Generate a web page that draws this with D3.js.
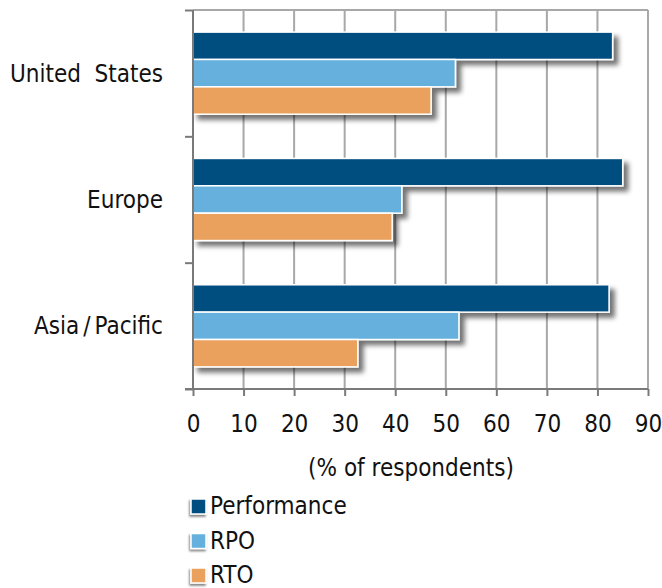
<!DOCTYPE html>
<html>
<head>
<meta charset="utf-8">
<script src="https://cdn.jsdelivr.net/npm/d3@7"></script>
<style>
  body { margin: 0; background: #fff; }
  text { font-family: "DejaVu Sans Condensed", "DejaVu Sans", sans-serif; fill: #111; }
</style>
</head>
<body>
<div id="chart"></div>
<script>
// Data
const regions = ['United States', 'Europe', 'Asia/Pacific'];
const seriesNames = ['Performance', 'RPO', 'RTO'];
const performance = [83, 85, 82.3];
const rpo = [51.9, 41.3, 52.6];
const rto = [47.1, 39.4, 32.6];
const xTicks = [0, 10, 20, 30, 40, 50, 60, 70, 80, 90];
const xLabel = '(% of respondents)';

const seriesValues = [performance, rpo, rto];
const colors = ['#004d80', '#66b0dd', '#e9a15d'];
const FONT = 24;

// Constants
const W = 662, H = 588;
const MARGIN = { top: 10, right: 14, bottom: 199, left: 193 };
const WIDTH = 648 - MARGIN.left;
const HEIGHT = 389 - MARGIN.top;

const svg = d3.select('#chart')
  .append('svg')
  .attr('width', W)
  .attr('height', H);

// Shadow filter
const defs = svg.append('defs');
const filter = defs.append('filter')
  .attr('id', 'shadow')
  .attr('x', '-10%').attr('y', '-30%')
  .attr('width', '130%').attr('height', '180%');
filter.append('feGaussianBlur').attr('in', 'SourceAlpha').attr('stdDeviation', 2.5).attr('result', 'blur');
filter.append('feOffset').attr('dx', 5).attr('dy', 5).attr('result', 'off');
filter.append('feComponentTransfer').append('feFuncA').attr('type', 'linear').attr('slope', 0.55);
const merge = filter.append('feMerge');
merge.append('feMergeNode');
merge.append('feMergeNode').attr('in', 'SourceGraphic');

// Small shadow for legend keys (falls down-left)
const keyShadow = defs.append('filter')
  .attr('id', 'keyshadow')
  .attr('x', '-50%').attr('y', '-50%')
  .attr('width', '200%').attr('height', '200%');
keyShadow.append('feGaussianBlur').attr('in', 'SourceAlpha').attr('stdDeviation', 0.8);
keyShadow.append('feOffset').attr('dx', -1.5).attr('dy', 1.5);
keyShadow.append('feComponentTransfer').append('feFuncA').attr('type', 'linear').attr('slope', 0.5);
const merge2 = keyShadow.append('feMerge');
merge2.append('feMergeNode');
merge2.append('feMergeNode').attr('in', 'SourceGraphic');

const g = svg.append('g')
  .attr('transform', `translate(${MARGIN.left}, ${MARGIN.top})`);

// Scales
const x = d3.scaleLinear().domain([0, 90]).range([0, WIDTH]);
const y0 = d3.scaleBand().domain(regions).range([0, HEIGHT]).paddingInner(0.35).paddingOuter(0.175);
const y1 = d3.scaleBand().domain(seriesNames).range([0, y0.bandwidth()]);

// Gridlines
g.append('line')
  .attr('x1', 0).attr('x2', WIDTH)
  .attr('y1', 0).attr('y2', 0)
  .attr('stroke', '#a8a8a8').attr('stroke-width', 2);
g.selectAll('.grid')
  .data(xTicks.slice(1))
  .join('line')
  .attr('class', 'grid')
  .attr('x1', d => x(d)).attr('x2', d => x(d))
  .attr('y1', 0).attr('y2', HEIGHT)
  .attr('stroke', '#a8a8a8').attr('stroke-width', 2);

// Bars
const groups = g.selectAll('.region')
  .data(regions)
  .join('g')
  .attr('class', 'region')
  .attr('transform', d => `translate(0, ${y0(d)})`)
  .attr('filter', 'url(#shadow)');

groups.selectAll('rect')
  .data((d, i) => seriesNames.map((s, j) => ({ s, v: seriesValues[j][i], c: colors[j] })))
  .join('rect')
  .attr('x', 0)
  .attr('y', d => y1(d.s))
  .attr('width', d => x(d.v))
  .attr('height', y1.bandwidth())
  .attr('fill', d => d.c)
  .attr('stroke', '#fff')
  .attr('stroke-width', 1.5);

// Axes
const yAxis = d3.axisLeft(d3.scaleLinear().domain([0, 3]).range([0, HEIGHT]))
  .tickValues([0, 1, 2, 3])
  .tickSize(8)
  .tickFormat('');
const yg = g.append('g').call(yAxis);
yg.selectAll('path, line').attr('stroke', '#7a7a7a').attr('stroke-width', 2);
yg.select('.domain').attr('d', `M0,0V${HEIGHT}`);

const xAxis = d3.axisBottom(x).tickValues(xTicks).tickSize(7).tickPadding(19);
const xg = g.append('g')
  .attr('transform', `translate(0, ${HEIGHT})`)
  .call(xAxis);
xg.select('.domain').attr('d', `M-8,0H${WIDTH}`);
xg.selectAll('path, line').attr('stroke', '#7a7a7a').attr('stroke-width', 2);
xg.selectAll('text')
  .attr('font-size', FONT)
  .style('font-family', '"DejaVu Sans Condensed", "DejaVu Sans", sans-serif')
  .attr('fill', '#111');

// Category labels
const cat = g.selectAll('.cat')
  .data(regions)
  .join('text')
  .attr('class', 'cat')
  .attr('x', -30)
  .attr('y', d => y0(d) + y0.bandwidth() / 2)
  .attr('dy', '0.35em')
  .attr('text-anchor', 'end')
  .attr('font-size', FONT)
  .attr('xml:space', 'preserve');
cat.each(function (d) {
  const t = d3.select(this);
  if (d === 'United States') {
    t.text('United  States');
  } else if (d.includes('/')) {
    const [a, b] = d.split('/');
    t.append('tspan').text(a);
    t.append('tspan').attr('dx', 4).text('/');
    t.append('tspan').attr('dx', 4).text(b);
  } else {
    t.text(d);
  }
});

// Axis title
svg.append('text')
  .attr('x', 411)
  .attr('y', 468)
  .attr('dy', '0.35em')
  .attr('text-anchor', 'middle')
  .attr('font-size', FONT)
  .text(xLabel);

// Legend
const legend = svg.append('g').attr('transform', 'translate(191, 506)');
const item = legend.selectAll('.item')
  .data(seriesNames)
  .join('g')
  .attr('class', 'item')
  .attr('transform', (d, i) => `translate(0, ${i * 34.5})`);
item.append('rect')
  .attr('x', 0).attr('y', -7)
  .attr('width', 15).attr('height', 15)
  .attr('fill', (d, i) => colors[i])
  .attr('stroke', '#fff').attr('stroke-width', 1.5)
  .attr('filter', 'url(#keyshadow)');
item.append('text')
  .attr('x', 19)
  .attr('y', 0)
  .attr('dy', '0.35em')
  .attr('font-size', FONT)
  .text(d => d);
</script>
</body>
</html>
